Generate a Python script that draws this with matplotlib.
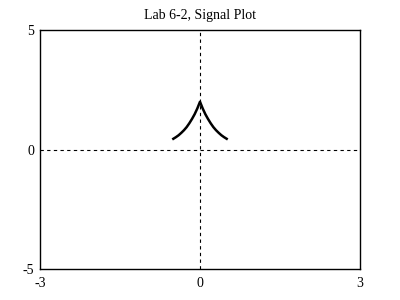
import matplotlib
matplotlib.use("Agg")
import matplotlib.pyplot as plt

# signal samples
t = [-0.5, -0.45, -0.4, -0.35, -0.3, -0.25, -0.2, -0.15, -0.1, -0.05, 0.0,
     0.05, 0.1, 0.15, 0.2, 0.25, 0.3, 0.35, 0.4, 0.45, 0.5]
x = [0.45, 0.52, 0.60, 0.70, 0.81, 0.94, 1.10, 1.28, 1.48, 1.72, 2.0,
     1.72, 1.48, 1.28, 1.10, 0.94, 0.81, 0.70, 0.60, 0.52, 0.45]

xticks = [-3, 0, 3]
yticks = [-5, 0, 5]

plt.rcParams['font.family'] = ['Liberation Serif', 'DejaVu Serif']
plt.rcParams['axes.unicode_minus'] = False

fig = plt.figure(figsize=(4, 3), dpi=100)
ax = fig.add_axes([0.1, 0.103, 0.8, 0.797])

ax.axhline(0, color='black', lw=0.8, ls=(0, (3, 3)))
ax.axvline(0, color='black', lw=0.8, ls=(0, (3, 3)))
ax.plot(t, x, color='black', lw=1.8)

ax.set_xlim(-3, 3)
ax.set_ylim(-5, 5)
ax.set_xticks(xticks)
ax.set_yticks(yticks)
ax.tick_params(length=0, labelsize=10)
ax.tick_params(axis='x', pad=6)
ax.tick_params(axis='y', pad=4)
for s in ax.spines.values():
    s.set_linewidth(1.0)

ax.set_title('Lab 6-2, Signal Plot', fontsize=10, pad=8)

fig.savefig('out.png', dpi=100)
